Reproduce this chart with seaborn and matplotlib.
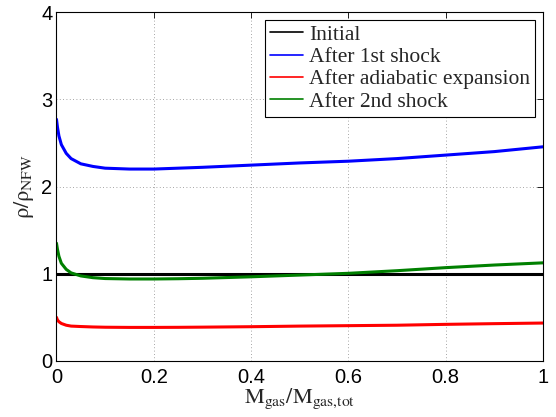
import numpy as np
import pandas as pd
import matplotlib
matplotlib.use("Agg")
import matplotlib.pyplot as plt
import seaborn as sns

# Gas mass coordinate (dense sampling near the centre where profiles are steep)
m_frac = [0.0, 0.002, 0.005, 0.01, 0.02, 0.03, 0.05, 0.075, 0.1, 0.15,
          0.2, 0.25, 0.3, 0.4, 0.5, 0.6, 0.7, 0.8, 0.9, 1.0]

rho_initial = [1.0] * len(m_frac)
rho_shock1 = [2.77, 2.68, 2.58, 2.48, 2.38, 2.32, 2.26, 2.23, 2.21, 2.20,
              2.20, 2.21, 2.22, 2.245, 2.27, 2.29, 2.32, 2.36, 2.40, 2.455]
rho_adiabatic = [0.50, 0.47, 0.45, 0.43, 0.41, 0.40, 0.395, 0.39, 0.387, 0.385,
                 0.385, 0.386, 0.388, 0.393, 0.40, 0.405, 0.41, 0.42, 0.428, 0.435]
rho_shock2 = [1.35, 1.28, 1.20, 1.12, 1.05, 1.01, 0.975, 0.955, 0.945, 0.94,
              0.94, 0.943, 0.948, 0.965, 0.985, 1.005, 1.035, 1.07, 1.10, 1.125]

labels = ["Initial", "After 1st shock", "After adiabatic expansion", "After 2nd shock"]
colors = ["#000000", "#0000ff", "#ff0000", "#008000"]

series = [rho_initial, rho_shock1, rho_adiabatic, rho_shock2]
df = pd.concat(
    [pd.DataFrame({"m": m_frac, "rho": vals, "stage": lab}) for lab, vals in zip(labels, series)],
    ignore_index=True,
)

sns.set_style("white")
plt.rcParams["font.family"] = ["Liberation Sans", "DejaVu Sans"]
plt.rcParams["mathtext.fontset"] = "stix"

fig = plt.figure(figsize=(5.56, 4.17), dpi=100)
ax = fig.add_axes([0.1016, 0.1343, 0.875, 0.8369])

sns.lineplot(data=df, x="m", y="rho", hue="stage", hue_order=labels,
             palette=colors, linewidth=2.2, ax=ax, legend=False, sort=False)

ax.set_xlim(0, 1)
ax.set_ylim(0, 4)
ax.set_xticks([0, 0.2, 0.4, 0.6, 0.8, 1])
ax.set_xticklabels(["0", "0.2", "0.4", "0.6", "0.8", "1"])
ax.set_yticks([0, 1, 2, 3, 4])
ax.tick_params(direction="in", length=4, width=0.6, labelsize=14.5,
               top=True, right=True, colors="black")
ax.tick_params(axis="x", pad=5)
ax.tick_params(axis="y", pad=3)
ax.grid(True, linestyle=(0, (1, 3)), color="#888888", linewidth=0.6)
for sp in ax.spines.values():
    sp.set_color("black")
    sp.set_linewidth(0.8)

ax.set_xlabel(r"$\mathrm{M_{gas}/M_{gas{,}tot}}$", fontsize=16, labelpad=0)
ax.set_ylabel(r"$\mathrm{ρ/ρ_{NFW}}$", fontsize=16, labelpad=4)

handles = [plt.Line2D([], [], color=c, linewidth=1.2) for c in colors]
leg = ax.legend(handles, labels, loc="upper right", frameon=True, fancybox=False,
                prop={"family": "Liberation Serif", "size": 15.5},
                handlelength=1.5, handletextpad=0.3, labelspacing=0.1,
                borderpad=0.25, borderaxespad=0.35, framealpha=1)
leg.get_frame().set_edgecolor("black")
leg.get_frame().set_linewidth(0.8)

fig.savefig("out.png", dpi=100)
